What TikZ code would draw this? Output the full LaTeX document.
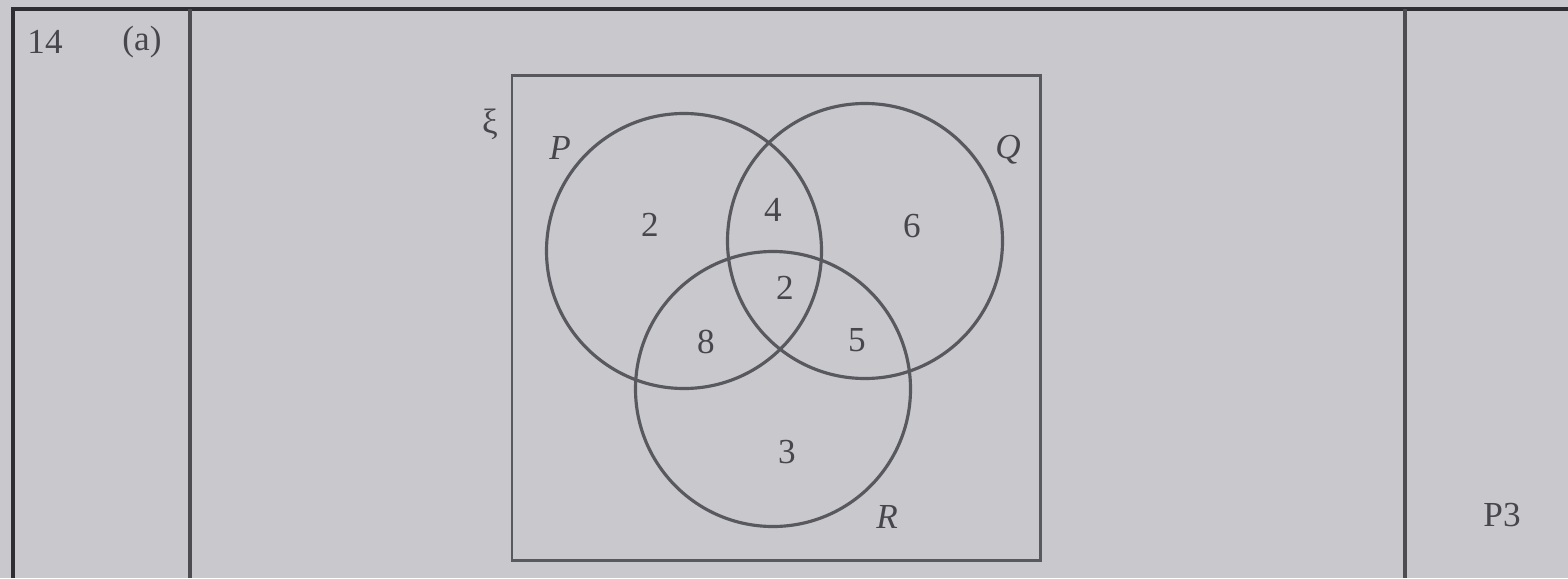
\documentclass[tikz,border=0pt]{standalone}
\usepackage{fontspec}
\setmainfont{Liberation Serif}
\usepackage{tikz}
\usetikzlibrary{positioning}
\definecolor{pgPaper}{RGB}{200,200,205}
\definecolor{pgInk}{RGB}{88,88,95}
\definecolor{pgRule}{RGB}{45,45,50}

\begin{document}
\begin{tikzpicture}[
    x=0.2mm, y=-0.2mm,
    setc/.style={circle, draw=pgInk, line width=1.8pt, minimum size=5.5cm, inner sep=0pt},
    num/.style={font=\fontsize{20}{24}\selectfont, text=pgInk!80!black},
    setlbl/.style={font=\fontsize{20}{24}\selectfont\itshape, text=pgInk!80!black},
    rule/.style={draw=pgRule, line width=2pt}
  ]
    \useasboundingbox (0,0) rectangle (1568,578);
    \fill[pgPaper] (0,0) rectangle (1568,578);
    % answer-sheet frame
    \draw[rule] (13,578) -- (13,9) -- (1568,9);
    \draw[rule, draw=pgRule!85] (190,9) -- (190,578);
    \draw[rule, draw=pgRule!85] (1405,9) -- (1405,578);
    \node[num] (qno) at (45,42) {14};
    \node[num] (part) at (142,42) {(a)};
    \node[num] (mark) at (1502,515) {P3};
    % universal set
    \node[draw=pgInk, line width=1.7pt, minimum width=10.56cm, minimum height=9.7cm, inner sep=0pt] (U) at (776,318) {};
    \node[num] (xi) at (490,124) {ξ};
    \node[setc] (P) at (684,251) {};
    \node[setc] (Q) at (865,241) {};
    \node[setc] (R) at (773,389) {};
    \node[setlbl] (lP) at (560,148) {P};
    \node[setlbl] (lQ) at (1008,150) {Q};
    \node[setlbl] (lR) at (887,517) {R};
    \node[num] (nP) at (650,225) {2};
    \node[num] (nPQ) at (773,210) {4};
    \node[num] (nQ) at (912,226) {6};
    \node[num] (nPQR) at (785,288) {2};
    \node[num] (nPR) at (706,342) {8};
    \node[num] (nQR) at (857,340) {5};
    \node[num] (nR) at (787,452) {3};
  \end{tikzpicture}
\end{document}
